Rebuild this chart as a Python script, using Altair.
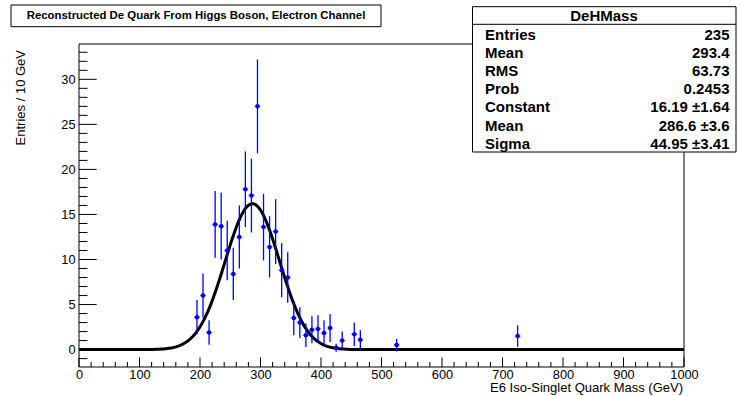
import altair as alt
import pandas as pd

# ---- histogram data (bin centres in GeV, weighted entries, errors) ----
bin_centers = [195, 205, 215, 225, 235, 245, 255, 265, 275, 285, 295, 305, 315, 325, 335,
               345, 355, 365, 375, 385, 395, 405, 415, 425, 435, 455, 465, 525, 725]
counts = [3.6, 6.0, 1.9, 13.9, 13.7, 11.0, 8.4, 12.5, 17.8, 17.1, 27.0, 13.6, 11.4, 13.1, 8.8,
          8.0, 3.5, 3.0, 1.6, 2.2, 2.3, 1.85, 2.4, 0.2, 1.0, 1.7, 1.1, 0.5, 1.5]
errors = [1.9, 2.45, 1.35, 3.7, 3.7, 3.3, 2.9, 3.5, 4.2, 4.1, 5.2, 3.7, 3.4, 3.6, 3.0,
          2.8, 1.9, 1.7, 1.3, 1.5, 1.5, 1.4, 1.55, 0.45, 1.0, 1.3, 1.05, 0.7, 1.2]
bin_width = 10

# ---- gaussian fit parameters (from the stats box) ----
fit_constant = 16.19
fit_mean = 286.6
fit_sigma = 44.95

# ---- axis ticks / labels ----
x_major = [0, 100, 200, 300, 400, 500, 600, 700, 800, 900, 1000]
x_minor = [v for v in range(0, 1001, 20) if v % 100]
y_major = [0, 5, 10, 15, 20, 25, 30]
y_minor = [v for v in range(-1, 34) if v % 5]

# ---- text ----
title_text = "Reconstructed De Quark From Higgs Boson, Electron Channel"
x_title = "E6 Iso-Singlet Quark Mass (GeV)"
y_title = "Entries / 10 GeV"
stats_name = "DeHMass"
stats_labels = ["Entries", "Mean", "RMS", "Prob", "Constant", "Mean", "Sigma"]
stats_values = ["235", "293.4", "63.73", "0.2453", "16.19 \u00b11.64", "286.6 \u00b13.6", "44.95 \u00b13.41"]

FONT = "Liberation Sans"
W, H = 605, 323
PAD_L, PAD_T = 79, 44

xs = alt.Scale(domain=[0, 1000], nice=False, zero=False)
ys = alt.Scale(domain=[-1.93, 33.92], nice=False, zero=False)
xax = alt.Axis(title=None, values=x_major, format="d", labelFont=FONT, labelFontSize=12.8,
               labelColor="black", ticks=False, domain=False, grid=False, labelPadding=1,
               labelFlush=False, labelOverlap=False)
yax = alt.Axis(title=None, values=y_major, format="d", labelFont=FONT, labelFontSize=12.8,
               labelColor="black", ticks=False, domain=False, grid=False, labelPadding=4,
               labelOverlap=False)

one = alt.Data(values=[{"a": 1}])

hist = pd.DataFrame({"c": bin_centers, "n": counts, "e": errors})

frame = alt.Chart(one).mark_rect(filled=False, stroke="black", strokeWidth=1).encode(
    x=alt.value(0), x2=alt.value(W), y=alt.value(0), y2=alt.value(H))

xt_major = alt.Chart(pd.DataFrame({"v": x_major})).mark_rule(color="black", strokeWidth=1).encode(
    x=alt.X("v:Q", scale=xs, axis=xax), y=alt.value(H), y2=alt.value(H - 9.5))
xt_minor = alt.Chart(pd.DataFrame({"v": x_minor})).mark_rule(color="black", strokeWidth=1).encode(
    x=alt.X("v:Q", scale=xs, axis=xax), y=alt.value(H), y2=alt.value(H - 5))
yt_major = alt.Chart(pd.DataFrame({"v": y_major})).mark_rule(color="black", strokeWidth=1).encode(
    y=alt.Y("v:Q", scale=ys, axis=yax), x=alt.value(0), x2=alt.value(17.7))
yt_minor = alt.Chart(pd.DataFrame({"v": y_minor})).mark_rule(color="black", strokeWidth=1).encode(
    y=alt.Y("v:Q", scale=ys, axis=yax), x=alt.value(0), x2=alt.value(8.5))

fit = alt.Chart(alt.sequence(0, 1001, 2, as_="m")).transform_calculate(
    f=f"{fit_constant}*exp(-0.5*pow((datum.m-{fit_mean})/{fit_sigma},2))"
).mark_line(color="black", strokeWidth=3).encode(
    x=alt.X("m:Q", scale=xs, axis=xax), y=alt.Y("f:Q", scale=ys, axis=yax))

base = alt.Chart(hist).transform_calculate(
    lo="datum.n-datum.e", hi="datum.n+datum.e",
    xl=f"datum.c-{bin_width}/2", xh=f"datum.c+{bin_width}/2")

verr = base.mark_rule(color="#0000ff", strokeWidth=1.3).encode(
    x=alt.X("c:Q", scale=xs, axis=xax), y=alt.Y("lo:Q", scale=ys, axis=yax), y2="hi:Q")
herr = base.mark_rule(color="#0000ff", strokeWidth=1.3, opacity=0.55).encode(
    x=alt.X("xl:Q", scale=xs, axis=xax), x2="xh:Q", y=alt.Y("n:Q", scale=ys, axis=yax))
pts = base.mark_circle(color="#0000ff", size=20, opacity=1).encode(
    x=alt.X("c:Q", scale=xs, axis=xax), y=alt.Y("n:Q", scale=ys, axis=yax))

# title box
tbox = alt.Chart(one).mark_rect(fill="white", stroke="black", strokeWidth=1).encode(
    x=alt.value(11 - PAD_L), x2=alt.value(381 - PAD_L), y=alt.value(5 - PAD_T), y2=alt.value(26.7 - PAD_T))
ttext = alt.Chart(one).mark_text(font=FONT, fontSize=11.4, fontWeight="bold", align="center",
                                 baseline="middle", color="black").encode(
    x=alt.value(196 - PAD_L), y=alt.value(16.2 - PAD_T), text=alt.value(title_text))

# stats box
sbox = alt.Chart(one).mark_rect(fill="white", stroke="black", strokeWidth=1).encode(
    x=alt.value(472.5 - PAD_L), x2=alt.value(736 - PAD_L), y=alt.value(6.7 - PAD_T), y2=alt.value(152 - PAD_T))
ssep = alt.Chart(one).mark_rule(color="black", strokeWidth=1).encode(
    x=alt.value(472.5 - PAD_L), x2=alt.value(736 - PAD_L), y=alt.value(24.3 - PAD_T))
shead = alt.Chart(one).mark_text(font=FONT, fontSize=15, fontWeight="bold", align="center",
                                 baseline="middle", color="black").encode(
    x=alt.value(604 - PAD_L), y=alt.value(16 - PAD_T), text=alt.value(stats_name))
slabels = alt.Chart(one).mark_text(font=FONT, fontSize=15, fontWeight="bold", align="left",
                                   baseline="alphabetic", lineHeight=18.2, color="black").encode(
    x=alt.value(485 - PAD_L), y=alt.value(39.6 - PAD_T), text=alt.value(stats_labels))
svalues = alt.Chart(one).mark_text(font=FONT, fontSize=15, fontWeight="bold", align="right",
                                   baseline="alphabetic", lineHeight=18.2, color="black").encode(
    x=alt.value(729.5 - PAD_L), y=alt.value(39.6 - PAD_T), text=alt.value(stats_values))

# axis titles
xtitle = alt.Chart(one).mark_text(font=FONT, fontSize=13, align="right", baseline="alphabetic",
                                  color="black").encode(
    x=alt.value(683 - PAD_L), y=alt.value(391.5 - PAD_T), text=alt.value(x_title))
ytitle = alt.Chart(one).mark_text(font=FONT, fontSize=13, align="right", baseline="alphabetic",
                                  angle=270, color="black").encode(
    x=alt.value(25 - PAD_L), y=alt.value(50 - PAD_T), text=alt.value(y_title))

chart = alt.layer(
    frame, xt_major, xt_minor, yt_major, yt_minor, fit, verr, herr, pts,
    tbox, ttext, sbox, ssep, shead, slabels, svalues, xtitle, ytitle
).properties(
    width=W, height=H,
    autosize=alt.AutoSizeParams(type="none"),
    padding={"left": PAD_L, "top": PAD_T, "right": 737 - PAD_L - W, "bottom": 396 - PAD_T - H},
    background="white",
).configure_view(stroke="transparent")

chart.save("out.html", embed_options={"renderer": "svg", "actions": False})
